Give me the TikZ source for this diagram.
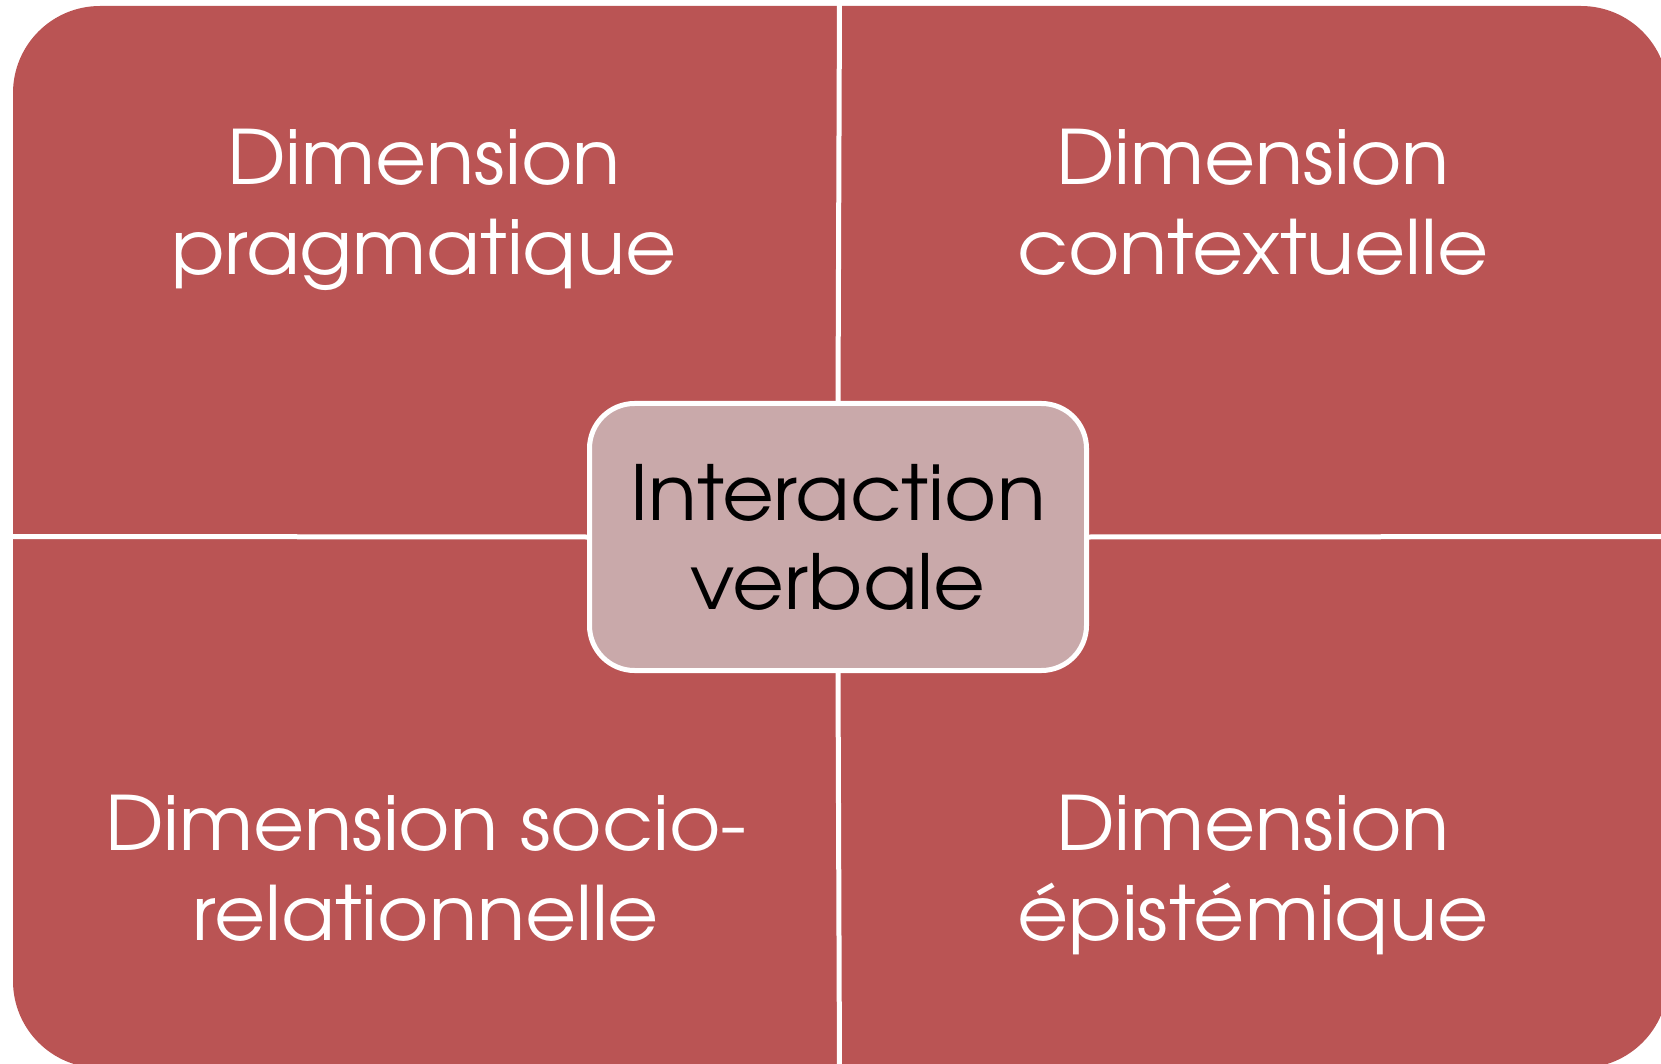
\documentclass[tikz,border=0pt]{standalone}
\usepackage{fontspec}
\setmainfont[FakeStretch=1.05]{TeX Gyre Adventor}
\definecolor{quadred}{RGB}{186,84,84}
\definecolor{centerfill}{RGB}{201,169,170}
\tikzset{
  quadlabel/.style={text=white, align=center, font=\fontsize{37.5pt}{45pt}\selectfont, inner sep=0pt, anchor=base},
  centerlabel/.style={text=black, align=center, font=\fontsize{38pt}{44.5pt}\selectfont, inner sep=0pt, anchor=base},
  divider/.style={draw=white, line width=2.5pt}
}
\begin{document}
\begin{tikzpicture}[x=0.5pt,y=-0.5pt]
\useasboundingbox (0,0) rectangle (1661,1064);
\clip (0,0) rectangle (1661,1064);
\fill[quadred, rounded corners=43.5pt] (13,6) rectangle (1668,1068);
\coordinate (top) at (839.5,0);
\coordinate (bottom) at (839.5,1070);
\coordinate (left) at (10,536.5);
\coordinate (right) at (1670,536.5);
\node[draw=white, line width=2.5pt, fill=centerfill, rounded corners=22.5pt, minimum width=248.5pt, minimum height=133.5pt, inner sep=0pt] (center) at (838,537) {};
\draw[divider] (top) -- (center.north);
\draw[divider] (center.south) -- (bottom);
\draw[divider] (left) -- (center.west);
\draw[divider] (center.east) -- (right);
\node[centerlabel] (ctext) at (838,609) {Interaction\\verbale};
\node[quadlabel] (tl) at (424,275) {Dimension\\pragmatique};
\node[quadlabel] (tr) at (1253,275) {Dimension\\contextuelle};
\node[quadlabel] (bl) at (426,940) {Dimension socio-\\relationnelle};
\node[quadlabel] (br) at (1253,940) {Dimension\\épistémique};
\end{tikzpicture}
\end{document}
